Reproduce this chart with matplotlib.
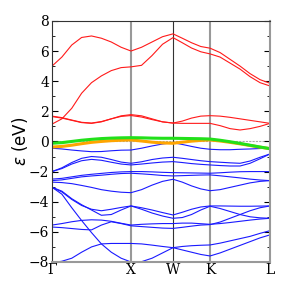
import matplotlib
matplotlib.use("Agg")
import matplotlib.pyplot as plt
import numpy as np

# k-path: pixel distances Gamma-X-W-K-L, sampled per segment
seg_ends = [0, 79, 121, 158, 218]
seg_n = [8, 4, 4, 6]
kpts = [0.0]
for i in range(4):
    for j in range(1, seg_n[i] + 1):
        kpts.append(seg_ends[i] + (seg_ends[i + 1] - seg_ends[i]) * j / seg_n[i])
kpts = np.array(kpts) / 79.0
klabels = ["Γ", "X", "W", "K", "L"]
kticks = np.array(seg_ends) / 79.0

# conduction bands (red): G->X (9), X->W (4), W->K (4), K->L (6)
red_bands = [
    [5.0, 5.6, 6.4, 6.9, 7.0, 6.85, 6.6, 6.25, 6.0,
     6.25, 6.6, 6.95, 7.14,
     6.85, 6.55, 6.3, 6.19,
     5.9, 5.45, 5.0, 4.5, 4.1, 3.86],
    [1.15, 1.5, 2.2, 3.2, 3.9, 4.35, 4.7, 4.9, 4.95,
     5.05, 5.7, 6.45, 6.89,
     6.55, 6.2, 5.95, 5.81,
     5.6, 5.2, 4.8, 4.3, 3.9, 3.68],
    [1.65, 1.55, 1.4, 1.25, 1.2, 1.3, 1.5, 1.7, 1.78,
     1.7, 1.5, 1.3, 1.22,
     1.2, 1.2, 1.2, 1.2,
     1.05, 0.85, 0.76, 0.85, 1.0, 1.2],
    [1.68, 1.58, 1.42, 1.27, 1.22, 1.32, 1.5, 1.66, 1.72,
     1.62, 1.45, 1.3, 1.22,
     1.35, 1.55, 1.68, 1.71,
     1.68, 1.6, 1.5, 1.4, 1.3, 1.2],
]

green_band = [-0.12, -0.08, 0.0, 0.08, 0.14, 0.19, 0.22, 0.24, 0.25,
              0.24, 0.22, 0.21, 0.21,
              0.2, 0.19, 0.18, 0.16,
              0.08, -0.02, -0.13, -0.25, -0.37, -0.48]
orange_band = [-0.37, -0.33, -0.25, -0.15, -0.06, 0.0, 0.05, 0.08, 0.1,
               0.03, -0.05, -0.1, -0.12,
               -0.05, 0.02, 0.07, 0.1,
               0.03, -0.06, -0.16, -0.27, -0.38, -0.48]

# valence bands (blue)
blue_bands = [
    [-0.45, -0.5, -0.57, -0.63, -0.68, -0.67, -0.62, -0.58, -0.57,
     -0.45, -0.3, -0.17, -0.08,
     -0.2, -0.33, -0.45, -0.52,
     -0.55, -0.55, -0.52, -0.5, -0.47, -0.45],
    [-2.0, -1.75, -1.4, -1.12, -1.0, -1.05, -1.2, -1.37, -1.45,
     -1.35, -1.2, -1.1, -1.05,
     -1.12, -1.2, -1.28, -1.34,
     -1.38, -1.42, -1.45, -1.3, -1.05, -0.83],
    [-2.0, -1.8, -1.5, -1.28, -1.19, -1.25, -1.38, -1.5, -1.56,
     -1.5, -1.43, -1.37, -1.34,
     -1.4, -1.47, -1.52, -1.56,
     -1.6, -1.63, -1.63, -1.45, -1.15, -0.83],
    [-2.5, -2.45, -2.35, -2.25, -2.18, -2.12, -2.06, -2.02, -2.0,
     -2.0, -2.02, -2.05, -2.07,
     -2.08, -2.09, -2.1, -2.11,
     -2.08, -2.04, -2.01, -2.0, -2.0, -2.0],
    [-2.6, -2.55, -2.45, -2.35, -2.29, -2.24, -2.18, -2.13, -2.11,
     -2.15, -2.2, -2.26, -2.29,
     -2.27, -2.25, -2.23, -2.22,
     -2.28, -2.35, -2.42, -2.5, -2.56, -2.6],
    [-2.7, -2.73, -2.8, -2.92, -3.05, -3.2, -3.3, -3.37, -3.4,
     -3.2, -2.9, -2.65, -2.51,
     -2.7, -2.95, -3.15, -3.27,
     -3.2, -3.05, -2.9, -2.75, -2.65, -2.6],
    [-3.04, -3.5, -4.4, -5.25, -6.05, -6.8, -7.35, -7.75, -8.0,
     -7.98, -7.75, -7.4, -7.05,
     -6.97, -6.92, -6.89, -6.87,
     -6.75, -6.6, -6.45, -6.3, -6.1, -5.92],
    [-8.05, -7.95, -7.75, -7.35, -7.0, -6.8, -6.77, -6.77, -6.77,
     -6.8, -6.88, -6.97, -7.05,
     -7.2, -7.35, -7.5, -7.6,
     -7.4, -7.15, -6.9, -6.65, -6.4, -6.2],
    [-3.04, -3.35, -3.85, -4.25, -4.5, -4.6, -4.5, -4.38, -4.28,
     -4.4, -4.55, -4.72, -4.88,
     -4.7, -4.5, -4.35, -4.28,
     -4.28, -4.29, -4.3, -4.3, -4.29, -4.28],
    [-3.04, -3.3, -3.8, -4.2, -4.55, -4.9, -4.85, -4.55, -4.28,
     -4.5, -4.75, -4.95, -5.1,
     -5.05, -4.85, -4.55, -4.3,
     -4.45, -4.65, -4.85, -5.0, -5.07, -5.1],
    [-5.55, -5.45, -5.33, -5.24, -5.2, -5.22, -5.3, -5.43, -5.55,
     -5.5, -5.47, -5.45, -5.45,
     -5.42, -5.42, -5.46, -5.5,
     -5.45, -5.38, -5.3, -5.22, -5.15, -5.1],
    [-5.68, -5.72, -5.78, -5.84, -5.87, -5.55, -5.33, -5.45, -5.6,
     -5.65, -5.7, -5.75, -5.77,
     -5.7, -5.62, -5.55, -5.52,
     -5.35, -5.1, -4.85, -4.6, -4.4, -4.28],
]

fig = plt.figure(figsize=(2.91, 2.91), dpi=100)
ax = fig.add_axes([0.1787, 0.0997, 0.7493, 0.8285])

for b in blue_bands:
    ax.plot(kpts, b, color="#1a1aff", lw=0.8)
for b in red_bands:
    ax.plot(kpts, b, color="#ff1a1a", lw=0.8)
ax.plot(kpts, orange_band, color="#ffa500", lw=2.2)
ax.plot(kpts, green_band, color="#22e01a", lw=2.2)

ax.axhline(0, color="#aaaaaa", lw=0.8, ls=(0, (2, 1)), zorder=0)
for i, k in enumerate(kticks[1:-1]):
    if klabels[i + 1] == "W":
        ax.axvline(k, color="#333333", lw=0.8, zorder=0.5)
    else:
        ax.axvline(k, color="#999999", lw=1.5, zorder=0.5)

ax.set_xlim(kticks[0], kticks[-1])
ax.set_ylim(-8, 8)
ax.set_xticks(kticks)
ax.set_xticklabels(klabels, family="DejaVu Serif", fontsize=10)
ax.set_yticks(range(-8, 9, 2))
ax.set_yticklabels(["−8", "−6", "−4", "−2", "0", "2", "4", "6", "8"],
                   family="DejaVu Serif", fontsize=10)
ax.set_yticks(range(-7, 8, 2), minor=True)
ax.tick_params(axis="y", which="both", direction="in", right=True, pad=2)
ax.tick_params(axis="y", which="major", length=4)
ax.tick_params(axis="y", which="minor", length=2.5)
ax.tick_params(axis="x", length=0, pad=1)
ax.set_ylabel(r"$\varepsilon$ (eV)", fontsize=12)
ax.yaxis.set_label_coords(-0.1, 0.5)

ax.spines["top"].set_color("#333333")
ax.spines["left"].set_color("#333333")
ax.spines["top"].set_linewidth(0.8)
ax.spines["left"].set_linewidth(0.8)
ax.spines["right"].set_color("#999999")
ax.spines["bottom"].set_color("#999999")
ax.spines["right"].set_linewidth(1.5)
ax.spines["bottom"].set_linewidth(1.5)

fig.savefig("out.png", dpi=100)
